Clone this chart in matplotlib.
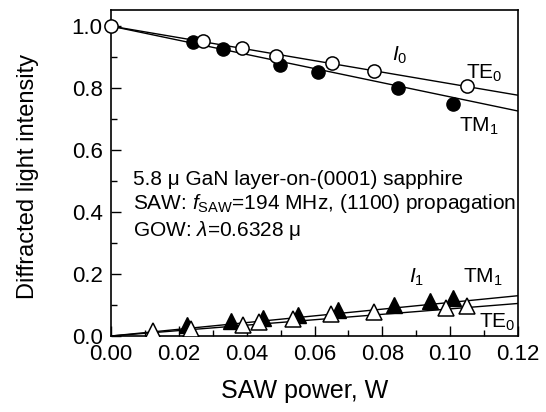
import matplotlib
matplotlib.use("Agg")
import matplotlib.pyplot as plt
import numpy as np
from matplotlib.ticker import MultipleLocator, FormatStrFormatter

plt.rcParams['font.family'] = ['Liberation Sans', 'DejaVu Sans']
plt.rcParams['mathtext.fontset'] = 'custom'
plt.rcParams['mathtext.rm'] = 'Liberation Sans'
plt.rcParams['mathtext.it'] = 'Liberation Sans:italic'
plt.rcParams['mathtext.bf'] = 'Liberation Sans:bold'

# I0, TE0 (open circles)
te0_i0_x = [0.0, 0.0272, 0.0387, 0.0486, 0.0651, 0.0774, 0.1051]
te0_i0_y = [1.0, 0.952, 0.928, 0.905, 0.880, 0.855, 0.806]
# I0, TM1 (filled circles)
tm1_i0_x = [0.0243, 0.0331, 0.0498, 0.0611, 0.0845, 0.1009]
tm1_i0_y = [0.949, 0.925, 0.874, 0.851, 0.799, 0.748]
# I1, TE0 (open triangles)
te0_i1_x = [0.0125, 0.0235, 0.0388, 0.0437, 0.0538, 0.0648, 0.0774, 0.0987, 0.1051]
te0_i1_y = [0.016, 0.023, 0.036, 0.046, 0.055, 0.071, 0.078, 0.091, 0.097]
# I1, TM1 (filled triangles)
tm1_i1_x = [0.0223, 0.0353, 0.0449, 0.0552, 0.0670, 0.0835, 0.0940, 0.1009]
tm1_i1_y = [0.035, 0.047, 0.057, 0.068, 0.084, 0.100, 0.113, 0.122]

# fitted lines (endpoints at x = 0 and x = 0.12)
fit_x = [0.0, 0.12]
te0_i0_fit = [1.0, 0.777]
tm1_i0_fit = [1.0, 0.726]
te0_i1_fit = [0.0, 0.105]
tm1_i1_fit = [0.0, 0.130]

fig = plt.figure(figsize=(5.46, 4.12), dpi=100)
ax = fig.add_axes([111/546, 1-336/412, (518-111)/546, (336-10)/412])

lw = 1.0
ax.plot(fit_x, te0_i0_fit, color='black', lw=lw, zorder=2)
ax.plot(fit_x, tm1_i0_fit, color='black', lw=lw, zorder=2)
ax.plot(fit_x, te0_i1_fit, color='black', lw=lw, zorder=2)
ax.plot(fit_x, tm1_i1_fit, color='black', lw=lw, zorder=2)

ms = 9.5
ax.plot(tm1_i0_x, tm1_i0_y, 'o', ms=ms, mfc='black', mec='black', mew=1.0, zorder=3)
ax.plot(te0_i0_x, te0_i0_y, 'o', ms=ms, mfc='white', mec='black', mew=1.1, zorder=4, clip_on=False)
ax.plot(tm1_i1_x, tm1_i1_y, '^', ms=11, mfc='black', mec='black', mew=1.0, zorder=3)
ax.plot(te0_i1_x, te0_i1_y, '^', ms=11, mfc='white', mec='black', mew=1.1, zorder=4)

ax.set_xlim(0, 0.12)
ax.set_ylim(0, 1.052)
ax.xaxis.set_major_locator(MultipleLocator(0.02))
ax.xaxis.set_minor_locator(MultipleLocator(0.01))
ax.yaxis.set_major_locator(MultipleLocator(0.2))
ax.yaxis.set_minor_locator(MultipleLocator(0.1))
ax.xaxis.set_major_formatter(FormatStrFormatter('%.2f'))
ax.yaxis.set_major_formatter(FormatStrFormatter('%.1f'))
ax.tick_params(which='both', direction='in', top=False, right=False, width=1.0, labelsize=16)
ax.tick_params(which='major', length=7, pad=6)
ax.tick_params(which='minor', length=4.5)
for s in ax.spines.values():
    s.set_linewidth(1.2)

ax.set_xlabel('SAW power, W', fontsize=18)
ax.xaxis.set_label_coords(0.475, -0.132)
ax.set_ylabel('Diffracted light intensity', fontsize=17)
ax.yaxis.set_label_coords(-0.178, 0.49)

fs = 15
ax.text(0.0064, 0.505, '5.8 \u03bc GaN layer-on-(0001) sapphire', fontsize=fs, va='center', ha='left')
ax.text(0.0064, 0.427, r'SAW: $\mathit{f}_{\mathrm{SAW}}$=194 MHz, (1100) propagation', fontsize=fs, va='center', ha='left')
ax.text(0.0064, 0.340, r'GOW: $\lambda$=0.6328 ' + '\u03bc', fontsize=fs, va='center', ha='left')

ax.text(0.0850, 0.905, r'$\mathit{I}_0$', fontsize=fs, ha='center', va='center')
ax.text(0.1100, 0.848, r'TE$_0$', fontsize=fs, ha='center', va='center')
ax.text(0.1085, 0.675, r'TM$_1$', fontsize=fs, ha='center', va='center')
ax.text(0.0900, 0.190, r'$\mathit{I}_1$', fontsize=fs, ha='center', va='center')
ax.text(0.1095, 0.190, r'TM$_1$', fontsize=fs, ha='center', va='center')
ax.text(0.1140, 0.045, r'TE$_0$', fontsize=fs, ha='center', va='center')

fig.savefig('out.png', dpi=100)
